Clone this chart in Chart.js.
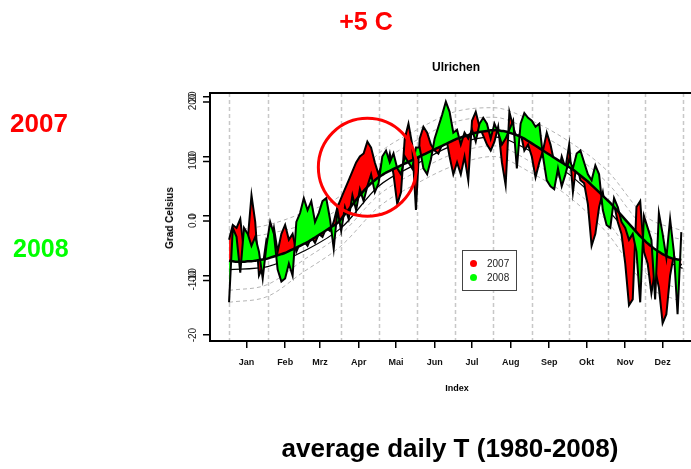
<!DOCTYPE html>
<html>
<head>
<meta charset="utf-8">
<script src="https://cdn.jsdelivr.net/npm/chart.js@4.4.0/dist/chart.umd.min.js"></script>
<style>
  body { margin: 0; width: 691px; height: 469px; overflow: hidden; background: #fff; position: relative;
         font-family: "Liberation Sans", Arial, sans-serif; }
  #wrap { position: absolute; left: 0; top: 0; width: 710px; height: 469px; }
  .t { position: absolute; white-space: nowrap; line-height: 1; font-weight: bold; }
  .c { transform: translateX(-50%); }
  #legend { position: absolute; left: 462px; top: 250px; width: 53px; height: 39px; border: 1px solid #444; background: #fff; }
  #legend .dot { position: absolute; left: 7px; width: 7px; height: 7px; border-radius: 50%; }
  #legend .lab { position: absolute; left: 24px; font-size: 10px; line-height: 1; color: #222; }
</style>
</head>
<body>
<div id="wrap"><canvas id="chart" width="710" height="469"></canvas></div>

<div class="t c" style="left:366px; top:9px; font-size:25px; color:#ff0000;">+5 C</div>
<div class="t" style="left:10px; top:110px; font-size:26px; color:#ff0000;">2007</div>
<div class="t" style="left:13px; top:236px; font-size:25px; color:#00ff00;">2008</div>
<div class="t c" style="left:456px; top:61px; font-size:12px;">Ulrichen</div>
<div class="t c" style="left:457px; top:384px; font-size:9px;">Index</div>
<div class="t" style="left:170px; top:218px; font-size:10px; transform: translate(-50%,-50%) rotate(-90deg);">Grad Celsius</div>
<div class="t c" style="left:450px; top:435px; font-size:26px;">average daily T (1980-2008)</div>

<div id="legend">
  <div class="dot" style="top:9px; background:#ff0000;"></div><div class="lab" style="top:8px;">2007</div>
  <div class="dot" style="top:23px; background:#00ff00;"></div><div class="lab" style="top:22px;">2008</div>
</div>

<script>
// day index of every sample (every 3rd day of the year)
const days = [];
for (let d = 1; d <= 364; d += 3) days.push(d);

// smoothed long-term mean (thick black line)
const meanT = [
  -7.5, -7.6, -7.7, -7.7, -7.7, -7.6, -7.6, -7.5, -7.4, -7.3, -7.2,     // Jan
  -7.0, -6.8, -6.6, -6.4, -6.2, -5.9, -5.6, -5.3, -5.0,                 // Feb
  -4.7, -4.4, -4.0, -3.6, -3.2, -2.8, -2.4, -2.0, -1.6, -1.2,           // Mar
  -0.5, 0.3, 1.1, 1.9, 2.7, 3.5, 4.2, 4.9, 5.5, 6.0,                    // Apr
  6.5, 6.9, 7.3, 7.6, 7.9, 8.2, 8.5, 8.8, 9.1, 9.4, 9.7,                // Mai
  10.0, 10.3, 10.6, 10.9, 11.2, 11.5, 11.8, 12.1, 12.4, 12.7,           // Jun
  13.0, 13.2, 13.4, 13.6, 13.8, 14.0, 14.1, 14.2, 14.3, 14.4,           // Jul
  14.4, 14.4, 14.3, 14.2, 14.0, 13.8, 13.6, 13.3, 13.0, 12.6,           // Aug
  12.2, 11.8, 11.4, 11.0, 10.6, 10.2, 9.8, 9.4, 9.0, 8.6,               // Sep
  8.2, 7.8, 7.3, 6.8, 6.3, 5.8, 5.2, 4.6, 4.0, 3.4, 2.8,                // Okt
  2.2, 1.5, 0.8, 0.1, -0.6, -1.3, -2.0, -2.7, -3.4, -4.0,               // Nov
  -4.6, -5.1, -5.6, -6.0, -6.4, -6.7, -7.0, -7.2, -7.3, -7.4            // Dez
];

const t2007 = [
  -4, -1.5, -2, -0.5, -6, -4, 3.5, -1, -10, -8.5, -4,
  -5, -2, -6, -3, -1.5, -4, -3, -6, -4.5,
  -4.2, -5, -3.5, -4.5, -3, -3.5, -2, -2.5, -1, 1.5,
  3, 4.5, 6, 7.5, 9, 10, 10.5, 12.5, 11.5, 9,
  7, 9, 8, 10.5, 7, 2, 4, 13, 15.5, 12, 1,
  13, 15, 14, 12, 11, 10.5, 12, 13.5, 10, 7,
  9, 7, 10, 6, 16, 17.5, 15, 13.5, 12, 11,
  12.5, 15, 9, 5.2, 17.5, 15, 13, 14, 11, 12,
  10, 6.5, 9, 11, 14, 12, 9, 7, 10, 8,
  12, 4, 9, 6, 5.5, 2, -5, -3, 1.5, 4, 0,
  0, 2, -1, -3, -8, -15, -14, 1.5, 2.5, -6,
  -8, -13, -9, -12, -18, -16.5, -10, -6.5, -9, -8
];

const t2008 = [
  -14.5, -2, -3.5, -9.5, -2, -3, -5, -3.5, -6, -10.5, -5,
  -1, -3, -9, -11, -10.5, -8, -10, -1, 0.5,
  3, 1, 2.5, -1, 0.5, 2.5, 3, -0.5, -5.5, 1,
  -2.5, 1.5, -0.5, 3.5, 1, 4.5, 2.5, 5, 7, 4,
  5.5, 10, 11, 9, 10.5, 8, 7, 10, 9, 8, 11.5,
  11.5, 8, 7, 9.5, 13, 15, 17, 19.2, 17.5, 14,
  14.5, 12, 14, 13, 14.5, 12.5, 15.5, 16.5, 15.5, 13,
  15.5, 14, 12, 13, 14.5, 16, 8, 15.5, 17.3, 16.5,
  16, 15, 15.5, 10, 6, 5, 4.5, 8, 5, 7,
  9.5, 8, 10.5, 11, 9, 7, 6, 8.5, 7, 1, -1.5,
  -2, 3, 1.5, -1, -2, -4, -3, -6, -14.5, 0,
  -2, -4, -14, 0.5, -3, -7, -0.5, -6, -16.5, -2.7
];

// smooth reference curves, read at the first day of each month
const monthStarts = [1, 32, 60, 91, 121, 152, 182, 213, 244, 274, 305, 335, 365];
const lowMean = [-9.0, -8.5, -6.0, -2.0, 5.0, 8.8, 12.0, 13.3, 10.8, 7.0, 1.0, -5.8, -8.8];
const upper2 = [-2.5, -1.5, 0.5, 3.5, 10.5, 14.5, 17.5, 18.2, 16.0, 12.5, 7.5, 0.0, -2.5];
const upper1 = [-4.0, -3.0, -1.5, 1.5, 8.5, 12.8, 15.8, 16.6, 14.3, 10.8, 5.5, -2.0, -4.0];
const lower1 = [-12.5, -11.5, -7.5, -3.0, 3.5, 7.5, 10.5, 11.8, 9.0, 5.0, -1.0, -9.5, -12.5];
const lower2 = [-14.5, -13.5, -9.5, -5.0, 1.5, 5.5, 8.5, 10.0, 7.2, 3.2, -3.0, -11.5, -14.5];

// axis labels
const monthNames = ["Jan", "Feb", "Mrz", "Apr", "Mai", "Jun", "Jul", "Aug", "Sep", "Okt", "Nov", "Dez"];
const monthMids = [15, 46, 74, 105, 135, 166, 196, 227, 258, 288, 319, 349];
const yTicks = [-20, -10, 0, 10, 20];
const yTicks2 = [-10, 0, 10, 20];
const yLabels2 = ["-100", "0.0", "100", "200"];

const pts = (xs, ys) => xs.map((x, i) => ({ x, y: ys[i] }));

function dashed(vals) {
  return {
    data: pts(monthStarts, vals),
    borderColor: "#b4b4b4", borderWidth: 1, borderDash: [4, 3],
    pointRadius: 0, fill: false, cubicInterpolationMode: "monotone", order: 5
  };
}

// vertical month lines, plot box, circle, second set of y labels
const extras = {
  id: "extras",
  beforeDatasetsDraw(chart) {
    const { ctx, chartArea: a, scales: { x } } = chart;
    ctx.save();
    ctx.strokeStyle = "#c8c8c8";
    ctx.lineWidth = 1.5;
    ctx.setLineDash([4, 3]);
    monthStarts.forEach(d => {
      const px = Math.round(x.getPixelForValue(d)) + 0.5;
      ctx.beginPath(); ctx.moveTo(px, a.top); ctx.lineTo(px, a.bottom); ctx.stroke();
    });
    ctx.restore();
  },
  afterDraw(chart) {
    const { ctx, chartArea: a, scales: { x, y } } = chart;
    ctx.save();
    ctx.strokeStyle = "#000";
    ctx.lineWidth = 2;
    ctx.strokeRect(a.left, a.top, a.right - a.left, a.bottom - a.top);

    // red circle around April
    ctx.strokeStyle = "#ff0000";
    ctx.lineWidth = 3;
    ctx.beginPath();
    ctx.arc(x.getPixelForValue(112), y.getPixelForValue(8.2), 49, 0, Math.PI * 2);
    ctx.stroke();

    // overprinted second y axis labels
    ctx.fillStyle = "#222";
    ctx.strokeStyle = "#000";
    ctx.lineWidth = 1.5;
    ctx.font = "10px 'Liberation Sans', Arial, sans-serif";
    ctx.textAlign = "center";
    ctx.textBaseline = "middle";
    yTicks2.forEach((v, i) => {
      const py = y.getPixelForValue(v) + 5;
      ctx.beginPath(); ctx.moveTo(a.left - 7, py); ctx.lineTo(a.left, py); ctx.stroke();
      ctx.save();
      ctx.translate(193, py);
      ctx.rotate(-Math.PI / 2);
      ctx.fillText(yLabels2[i], 0, 0);
      ctx.restore();
    });
    ctx.restore();
  }
};

new Chart(document.getElementById("chart").getContext("2d"), {
  type: "line",
  data: {
    datasets: [
      { data: pts(days, meanT), borderColor: "#000", borderWidth: 2.5, pointRadius: 0,
        fill: false, cubicInterpolationMode: "monotone", order: 0 },
      { data: pts(days, t2008), borderColor: "#000", borderWidth: 2, pointRadius: 0,
        backgroundColor: "#00ff00", fill: 0, tension: 0, order: 1 },
      { data: pts(days, t2007), borderColor: "#000", borderWidth: 2, pointRadius: 0,
        backgroundColor: "#ff0000", fill: 0, tension: 0, order: 2 },
      { data: pts(monthStarts, lowMean), borderColor: "#000", borderWidth: 1.2, pointRadius: 0,
        fill: false, cubicInterpolationMode: "monotone", order: 3 },
      dashed(upper2), dashed(upper1), dashed(lower1), dashed(lower2)
    ]
  },
  options: {
    responsive: false,
    animation: false,
    layout: { padding: { top: 93, right: 10, left: 0, bottom: 0 } },
    plugins: { legend: { display: false }, tooltip: { enabled: false } },
    scales: {
      x: {
        type: "linear", min: -14.3, max: 379,
        afterBuildTicks: s => { s.ticks = monthMids.map(v => ({ value: v })); },
        afterFit: s => { s.height = 128; },
        grid: { drawOnChartArea: false, drawTicks: true, tickLength: 7, color: "#000", lineWidth: 1.5 },
        border: { display: true, color: "#000", width: 2 },
        ticks: {
          autoSkip: false, maxRotation: 0, padding: 9, color: "#111",
          font: { family: "'Liberation Sans', Arial, sans-serif", size: 9, weight: "bold" },
          callback: (v, i) => monthNames[i]
        }
      },
      y: {
        type: "linear", min: -21, max: 20.67,
        afterBuildTicks: s => { s.ticks = yTicks.map(v => ({ value: v })); },
        afterFit: s => { s.width = 210; },
        grid: { drawOnChartArea: false, drawTicks: true, tickLength: 7, color: "#000", lineWidth: 1.5 },
        border: { display: true, color: "#000", width: 2 },
        ticks: {
          minRotation: 90, maxRotation: 90, crossAlign: "center", padding: 3, color: "#222",
          font: { family: "'Liberation Sans', Arial, sans-serif", size: 10 },
          callback: v => String(v)
        }
      }
    }
  },
  plugins: [extras]
});
</script>
</body>
</html>
